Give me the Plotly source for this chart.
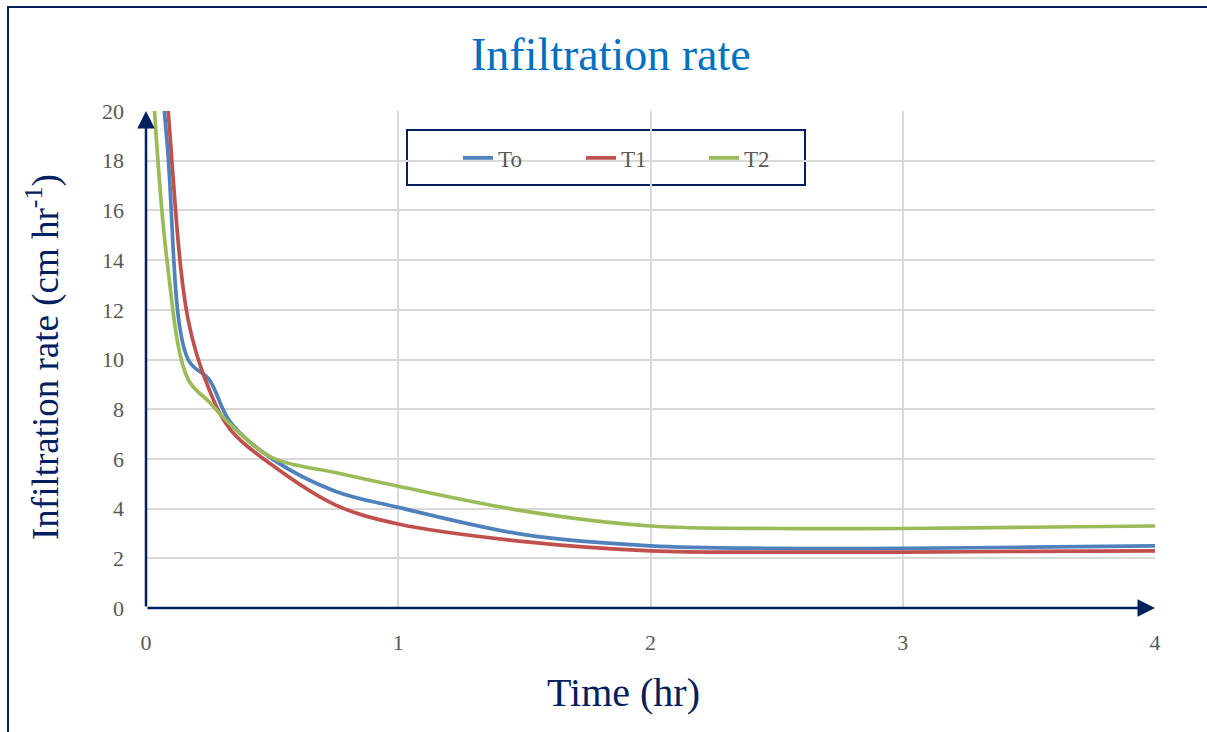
import plotly.graph_objects as go

# ---- data ----
time_hr = [0, 0.083, 0.167, 0.25, 0.333, 0.5, 0.75, 1, 1.5, 2, 2.5, 3, 3.5, 4]
To = [29, 18.8, 10.0, 9.2, 7.5, 6.0, 4.7, 4.05, 2.95, 2.5, 2.4, 2.4, 2.45, 2.5]
T1 = [32, 20.6, 11.6, 8.8, 7.2, 5.75, 4.15, 3.38, 2.67, 2.3, 2.25, 2.25, 2.28, 2.3]
T2 = [26, 14.0, 9.2, 8.3, 7.4, 6.05, 5.45, 4.9, 3.9, 3.3, 3.2, 3.2, 3.25, 3.3]
series_names = ["To", "T1", "T2"]
series_colors = ["#4F81BD", "#C0504D", "#9BBB59"]
x_ticks = [0, 1, 2, 3, 4]
y_ticks = [0, 2, 4, 6, 8, 10, 12, 14, 16, 18, 20]

FONT = "Liberation Serif"
NAVY = "#002060"

W, H = 1207, 732
L, R, T, B = 146, 52, 111, 124
pw, ph = W - L - R, H - T - B

def px_x(p):
    return (p - L) / pw

def px_y(p):
    return (H - B - p) / ph

fig = go.Figure()
for name, ys, col in zip(series_names, [To, T1, T2], series_colors):
    fig.add_trace(go.Scatter(
        x=time_hr, y=ys, name=name, mode="lines",
        line=dict(color=col, width=3.7, shape="spline", smoothing=1.0),
    ))

fig.update_layout(
    width=W, height=H,
    margin=dict(l=L, r=R, t=T, b=B, autoexpand=False),
    paper_bgcolor="white", plot_bgcolor="white",
    font=dict(family=FONT, color="#595959", size=22),
    showlegend=True,
    legend=dict(
        orientation="h", x=px_x(458), y=px_y(158), xanchor="left", yanchor="middle",
        bgcolor="rgba(0,0,0,0)", borderwidth=0,
        font=dict(family=FONT, size=23, color="#595959"),
        entrywidth=78, entrywidthmode="pixels",
    ),
    xaxis=dict(
        range=[0, 4], tickvals=x_ticks, showgrid=True, gridcolor="#D9D9D9", gridwidth=1.5,
        zeroline=False, showline=False, ticks="", ticklabelstandoff=19,
        tickfont=dict(family=FONT, size=22, color="#595959"),
    ),
    yaxis=dict(
        range=[0, 20], tickvals=y_ticks, showgrid=True, gridcolor="#D9D9D9", gridwidth=1.5,
        zeroline=False, showline=False, ticks="", ticklabelstandoff=21,
        tickfont=dict(family=FONT, size=22, color="#595959"),
    ),
    shapes=[
        # outer chart border (partly outside the view)
        dict(type="rect", xref="paper", yref="paper",
             x0=px_x(8), x1=px_x(1300), y0=px_y(800), y1=px_y(7),
             line=dict(color=NAVY, width=2), fillcolor="rgba(0,0,0,0)", layer="below"),
        # legend box
        dict(type="rect", xref="paper", yref="paper",
             x0=px_x(407), x1=px_x(805), y0=px_y(185), y1=px_y(130),
             line=dict(color=NAVY, width=2), fillcolor="white", layer="below"),
    ],
    annotations=[
        dict(text="Infiltration rate", xref="paper", yref="paper",
             x=px_x(611), y=px_y(55), xanchor="center", yanchor="middle", showarrow=False,
             font=dict(family=FONT, size=46, color="#0070C0")),
        dict(text="Time (hr)", xref="paper", yref="paper",
             x=px_x(623), y=px_y(692), xanchor="center", yanchor="middle", showarrow=False,
             font=dict(family=FONT, size=40, color=NAVY)),
        dict(text="Infiltration rate (cm hr<sup>-1</sup>)", xref="paper", yref="paper",
             x=px_x(43), y=px_y(357), xanchor="center", yanchor="middle",
             showarrow=False, textangle=-90,
             font=dict(family=FONT, size=37, color=NAVY)),
        # axis arrows
        dict(x=4, y=0, ax=0, ay=0, xref="x", yref="y", axref="x", ayref="y",
             showarrow=True, arrowhead=2, arrowsize=1.4, arrowwidth=2.5,
             arrowcolor=NAVY, standoff=0, text=""),
        dict(x=0, y=20, ax=0, ay=0, xref="x", yref="y", axref="x", ayref="y",
             showarrow=True, arrowhead=2, arrowsize=1.4, arrowwidth=2.5,
             arrowcolor=NAVY, standoff=0, text=""),
    ],
)

fig.write_html("out.html")
